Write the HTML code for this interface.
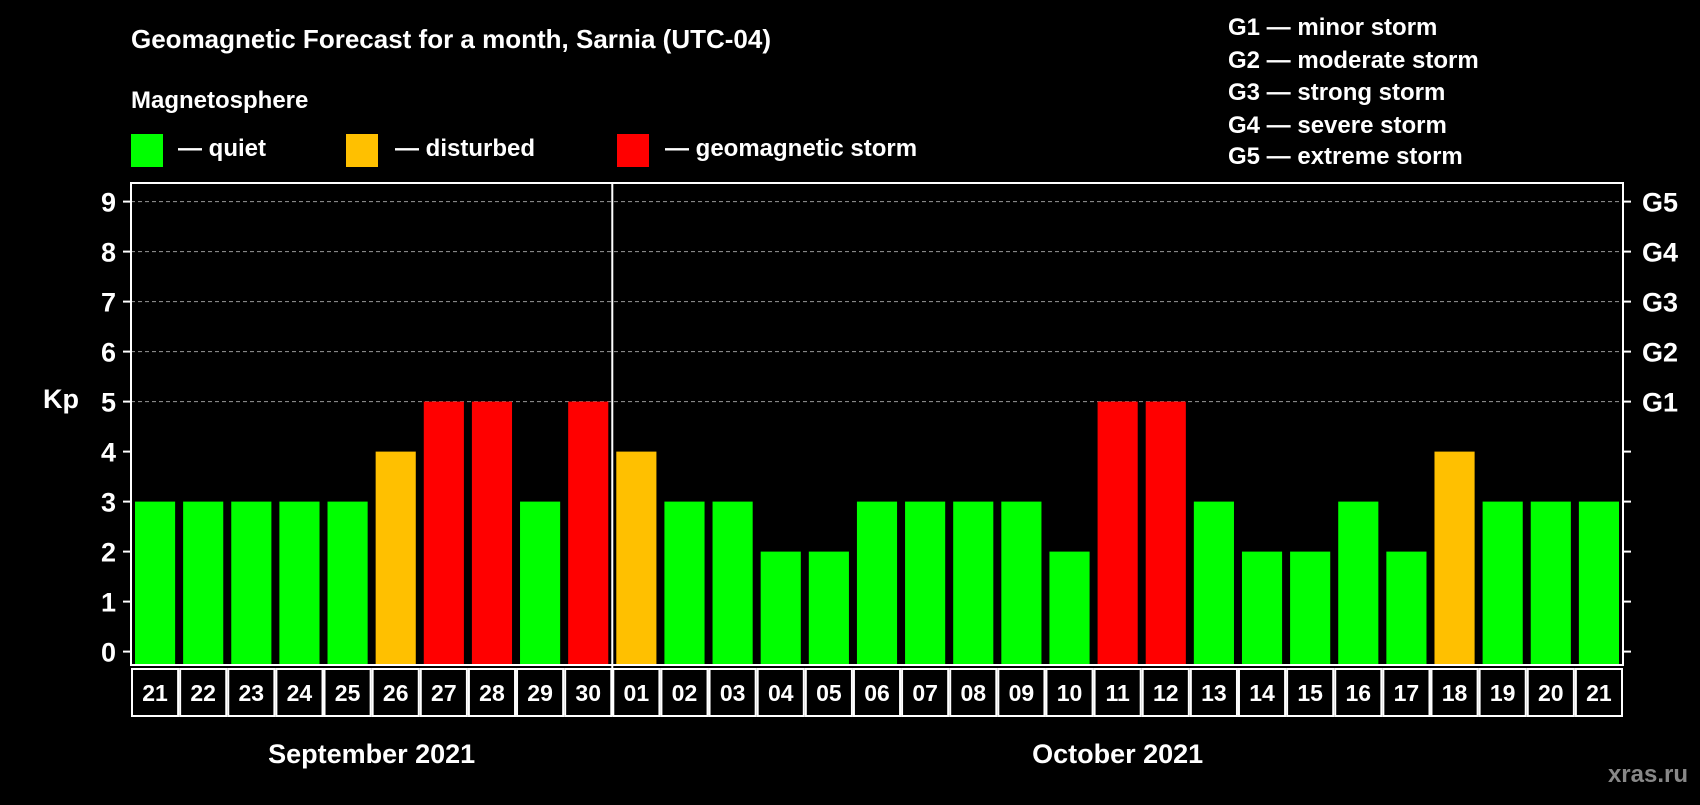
<!DOCTYPE html>
<html><head><meta charset="utf-8"><style>
body{margin:0;background:#000;width:1700px;height:800px;overflow:hidden;font-family:"Liberation Sans",Arial,sans-serif;}
svg text{font-family:"Liberation Sans",Arial,sans-serif;font-weight:bold;fill:#fff;}
</style></head><body>
<svg id="chart" width="1700" height="800" viewBox="0 0 1700 800" xmlns="http://www.w3.org/2000/svg">
<rect width="1700" height="800" fill="#000"/>
<text x="131" y="48" font-size="26">Geomagnetic Forecast for a month, Sarnia (UTC-04)</text>
<text x="131" y="108" font-size="24">Magnetosphere</text>
<g><rect x="131" y="134" width="32" height="33" fill="#00ff00"/><text x="178" y="156" font-size="24">— quiet</text></g>
<g><rect x="346" y="134" width="32" height="33" fill="#ffc000"/><text x="395" y="156" font-size="24">— disturbed</text></g>
<g><rect x="617" y="134" width="32" height="33" fill="#ff0000"/><text x="665" y="156" font-size="24">— geomagnetic storm</text></g>
<g font-size="24">
<text x="1228" y="35">G1 — minor storm</text>
<text x="1228" y="68">G2 — moderate storm</text>
<text x="1228" y="100">G3 — strong storm</text>
<text x="1228" y="133">G4 — severe storm</text>
<text x="1228" y="164">G5 — extreme storm</text>
</g>
<text x="43" y="408" font-size="27">Kp</text>
<g id="grid"></g><g id="bars"></g><g id="axes"></g>
<text x="1688" y="782" font-size="24" text-anchor="end" style="fill:#888">xras.ru</text>
</svg>
<script>
const days = ["21","22","23","24","25","26","27","28","29","30","01","02","03","04","05","06","07","08","09","10","11","12","13","14","15","16","17","18","19","20","21"];
const kpValues = [3,3,3,3,3,4,5,5,3,5,4,3,3,2,2,3,3,3,3,2,5,5,3,2,2,3,2,4,3,3,3];
const yTicks = [0,1,2,3,4,5,6,7,8,9];
const gLabels = ["","","","","","G1","G2","G3","G4","G5"];
const months = ["September 2021","October 2021"];
const monthStarts = [0,10];

const NS="http://www.w3.org/2000/svg";
const L=131,R=1623,T=183,B=665;
const slot=(R-L)/days.length;
function x(i){return L+i*slot;}
function y(v){return 651.6-v*50;}
function mk(tag,attrs,parent){const e=document.createElementNS(NS,tag);for(const k in attrs)e.setAttribute(k,attrs[k]);parent.appendChild(e);return e;}
const grid=document.getElementById('grid'),bars=document.getElementById('bars'),axes=document.getElementById('axes');
yTicks.forEach((t,i)=>{
  if(t>=5){const g=mk('line',{x1:L,x2:R,y1:y(t),y2:y(t),stroke:'#999','stroke-dasharray':'4,3','stroke-width':1},grid);
  
  }
  mk('line',{x1:L-8,x2:L,y1:y(t),y2:y(t),stroke:'#fff','stroke-width':2},axes);
  mk('line',{x1:R,x2:R+8,y1:y(t),y2:y(t),stroke:'#fff','stroke-width':2},axes);
  const tl=mk('text',{x:116,y:y(t)+10,'font-size':27,'text-anchor':'end'},axes);tl.textContent=t;
  
  
  if(gLabels[i]){const gl=mk('text',{x:1642,y:y(t)+10,'font-size':27},axes);gl.textContent=gLabels[i];
  
  }
});
kpValues.forEach((v,i)=>{
  const c=v>=5?'#ff0000':(v>=4?'#ffc000':'#00ff00');
  const b=mk('rect',{x:x(i)+4,y:y(v),width:slot-8,height:y(0)-y(v)+13,fill:c},bars);
  
  
  const bx=mk('rect',{x:x(i)+1,y:669,width:slot-2,height:47,fill:'none',stroke:'#fff','stroke-width':2},axes);
  
  
  const dl=mk('text',{x:x(i)+slot/2,y:701,'font-size':23,'text-anchor':'middle'},axes);dl.textContent=days[i];
  
  
});
const fr=mk('rect',{x:L,y:T,width:R-L,height:B-T,fill:'none',stroke:'#fff','stroke-width':2},axes);


const dv=mk('line',{x1:x(monthStarts[1]),x2:x(monthStarts[1]),y1:T,y2:716,stroke:'#fff','stroke-width':2},axes);


months.forEach((m,k)=>{
  const s=monthStarts[k],e=k+1<monthStarts.length?monthStarts[k+1]:days.length;
  const t=mk('text',{x:(x(s)+x(e))/2,y:763,'font-size':27,'text-anchor':'middle'},axes);t.textContent=m;
  
  
});
</script>
</body></html>
